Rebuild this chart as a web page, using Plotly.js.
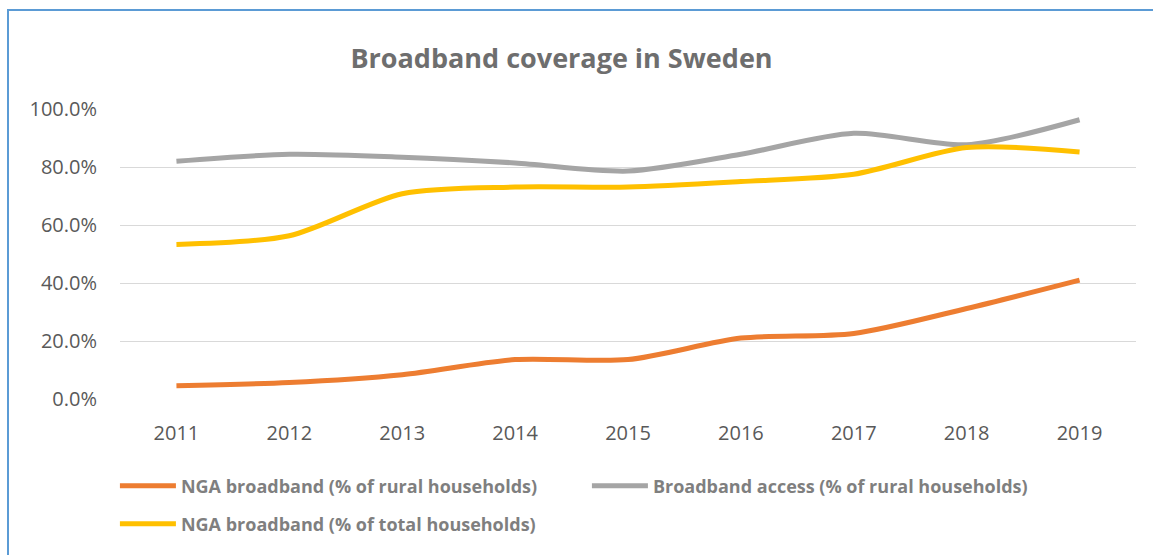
<!DOCTYPE html>
<html>
<head>
<meta charset="utf-8">
<script src="https://cdn.plot.ly/plotly-3.0.1.min.js"></script>
<style>
  body { margin: 0; background: #fff; }
  #chart { position: absolute; left: 0; top: 0; width: 1153px; height: 555px; }
  #frame { position: absolute; left: 7px; top: 9px; width: 1200px; height: 600px;
           border-left: 2px solid #5B9BD5; border-top: 2px solid #5B9BD5; pointer-events: none; }
</style>
</head>
<body>
<div id="chart"></div>
<div id="frame"></div>
<script>
// years on the x axis
var years = ["2011", "2012", "2013", "2014", "2015", "2016", "2017", "2018", "2019"];

// values in %
var ngaRural = [4.6, 5.7, 8.4, 13.6, 13.6, 21.0, 22.6, 31.2, 41.0];
var accessRural = [82.0, 84.4, 83.4, 81.4, 78.6, 84.4, 91.6, 87.7, 96.3];
var ngaTotal = [53.3, 56.3, 70.8, 73.1, 73.1, 75.0, 77.5, 86.7, 85.2];

// y axis ticks
var yTicks = [0, 20, 40, 60, 80, 100];
var yTickText = yTicks.map(function (v) { return v.toFixed(1) + "%"; });

var names = [
  "NGA broadband (% of rural households)",
  "Broadband access (% of rural households)",
  "NGA broadband (% of total households)"
];

function trace(y, name, color, legend) {
  return {
    x: years, y: y, name: name, type: "scatter", mode: "lines",
    line: {color: color, width: 5, shape: "spline", smoothing: 0.8},
    legend: legend
  };
}

var data = [
  trace(ngaRural, names[0], "#ED7D31", "legend"),
  trace(accessRural, names[1], "#A5A5A5", "legend"),
  trace(ngaTotal, names[2], "#FFC000", "legend2")
];

var legendFont = {family: "Open Sans", size: 18, color: "#7F7F7F", weight: "bold"};

var layout = {
  width: 1153,
  height: 555,
  margin: {l: 120, r: 17, t: 109, b: 156},
  paper_bgcolor: "rgba(0,0,0,0)",
  plot_bgcolor: "#fff",
  font: {family: "Open Sans", color: "#595959"},
  title: {
    text: "<b>Broadband coverage in Sweden</b>",
    font: {family: "Open Sans", size: 27, color: "#6E6E6E"},
    x: 0.487, xanchor: "center", y: 0.895, yanchor: "middle"
  },
  xaxis: {
    type: "category",
    range: [-0.5, 8.5],
    showgrid: false,
    showline: false,
    zeroline: false,
    tickfont: {size: 20, color: "#595959"},
    ticklabelstandoff: 20
  },
  yaxis: {
    range: [0, 100],
    tickvals: yTicks,
    ticktext: yTickText,
    gridcolor: "#D9D9D9",
    gridwidth: 1,
    zeroline: false,
    showline: false,
    tickfont: {size: 20, color: "#595959"},
    ticklabelstandoff: 22
  },
  showlegend: true,
  legend: {
    orientation: "h", x: -0.005, xanchor: "left", y: -0.30, yanchor: "middle",
    font: legendFont, entrywidth: 401, itemwidth: 56, bgcolor: "rgba(0,0,0,0)"
  },
  legend2: {
    orientation: "h", x: -0.005, xanchor: "left", y: -0.431, yanchor: "middle",
    font: legendFont, itemwidth: 56, bgcolor: "rgba(0,0,0,0)"
  }
};

Plotly.newPlot("chart", data, layout, {displayModeBar: false, staticPlot: true});
</script>
</body>
</html>
